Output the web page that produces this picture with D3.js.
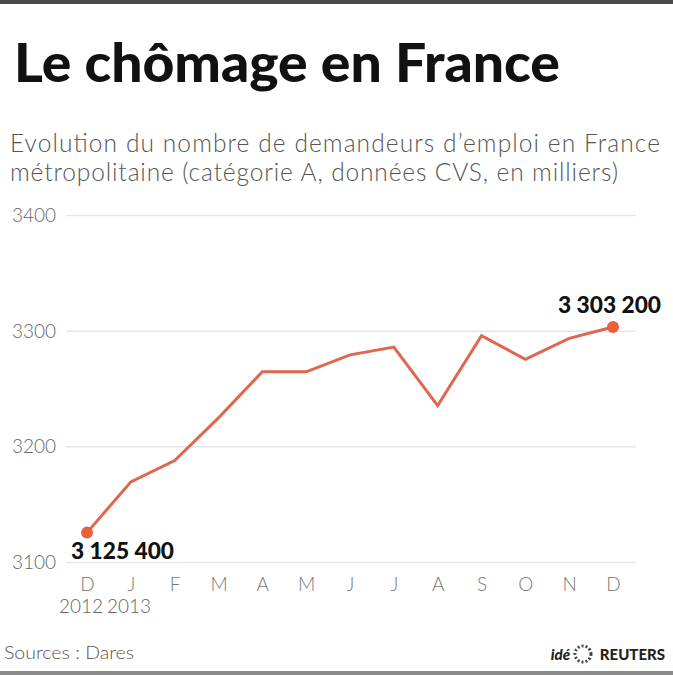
<!DOCTYPE html>
<head>
<meta charset="utf-8">
<script src="https://cdn.jsdelivr.net/npm/d3@7"></script>
<style>
  body { margin: 0; background: #fff; }
  text { font-family: Lato, "Open Sans", sans-serif; }
</style>
</head>
<body>
<svg id="chart" width="673" height="675"></svg>
<script>
// months: Dec 2012 .. Dec 2013
var months = ['D', 'J', 'F', 'M', 'A', 'M', 'J', 'J', 'A', 'S', 'O', 'N', 'D']
var years = ['2012', '2013']
var values = [3125.4, 3169.3, 3187.7, 3224.6, 3264.5, 3264.4, 3279.1, 3285.8, 3235.2, 3295.7, 3275.2, 3293.4, 3303.2]
var yTicks = [3100, 3200, 3300, 3400]
var firstLabel = '3 125 400'
var lastLabel = '3 303 200'

var svg = d3.select('#chart')

// frame lines
svg.append('rect').attr('x', 0).attr('y', 0).attr('width', 673).attr('height', 4).attr('fill', '#4a4a4a')
svg.append('rect').attr('x', 0).attr('y', 671).attr('width', 673).attr('height', 4).attr('fill', '#8a8a8a')

svg.append('text').attr('x', 14).attr('y', 82)
  .attr('font-size', 53).attr('font-weight', 900).attr('fill', '#111')
  .attr('textLength', 546).attr('lengthAdjust', 'spacingAndGlyphs')
  .text('Le chômage en France')

var sub = svg.append('text').attr('font-size', 24.5).attr('font-weight', 300).attr('fill', '#555')
  .attr('lengthAdjust', 'spacingAndGlyphs')
sub.append('tspan').attr('x', 10).attr('y', 152).attr('textLength', 650)
  .text('Evolution du nombre de demandeurs d\u2019emploi en France')
sub.append('tspan').attr('x', 10).attr('y', 181).attr('textLength', 608)
  .text('métropolitaine (catégorie A, données CVS, en milliers)')

var x = d3.scalePoint().domain(d3.range(months.length)).range([87, 613])
var y = d3.scaleLinear().domain([3100, 3400]).range([562, 215])

// gridlines + y labels
var yAxis = d3.axisLeft(y).tickValues(yTicks).tickSize(-(636 - 66)).tickFormat(d3.format('d'))
var gy = svg.append('g').attr('transform', 'translate(66,0)').call(yAxis)
gy.select('.domain').remove()
gy.selectAll('line').attr('stroke', '#e6e6e6').attr('stroke-width', 1.5)
gy.selectAll('text').attr('x', -10).attr('dy', '0.35em').attr('font-size', 19).attr('font-weight', 300)
  .attr('fill', '#666').attr('font-family', 'Lato, sans-serif')

// x labels
var xAxis = d3.axisBottom(x).tickSize(0).tickFormat(function (i) { return months[i] })
var gx = svg.append('g').attr('transform', 'translate(0,574)').call(xAxis)
gx.select('.domain').remove()
gx.selectAll('text').attr('dy', '0.71em').attr('font-size', 19).attr('font-weight', 300)
  .attr('fill', '#777').attr('font-family', 'Lato, sans-serif')

svg.selectAll('.year').data(years).enter().append('text')
  .attr('x', function (d, i) { return i === 0 ? 103 : 107 })
  .attr('y', 613).attr('text-anchor', function (d, i) { return i === 0 ? 'end' : 'start' })
  .attr('font-size', 19).attr('font-weight', 300).attr('fill', '#666')
  .attr('textLength', 44).attr('lengthAdjust', 'spacingAndGlyphs')
  .text(function (d) { return d })

var line = d3.line().x(function (d, i) { return x(i) }).y(function (d) { return y(d) })
svg.append('path').datum(values).attr('d', line)
  .attr('fill', 'none').attr('stroke', '#e0664e').attr('stroke-width', 3).attr('stroke-linejoin', 'miter')

var ends = [0, values.length - 1]
svg.selectAll('.dot').data(ends).enter().append('circle')
  .attr('cx', function (i) { return x(i) }).attr('cy', function (i) { return y(values[i]) })
  .attr('r', 6).attr('fill', '#ea5f3c')

svg.append('text').attr('x', 71).attr('y', 559)
  .attr('font-size', 22).attr('font-weight', 900).attr('fill', '#111')
  .attr('textLength', 103).attr('lengthAdjust', 'spacingAndGlyphs').text(firstLabel)
svg.append('text').attr('x', 558).attr('y', 313)
  .attr('font-size', 22).attr('font-weight', 900).attr('fill', '#111')
  .attr('textLength', 103).attr('lengthAdjust', 'spacingAndGlyphs').text(lastLabel)

// footer
svg.append('text').attr('x', 4).attr('y', 659).attr('font-size', 18).attr('font-weight', 300).attr('fill', '#555')
  .attr('textLength', 130).attr('lengthAdjust', 'spacingAndGlyphs')
  .text('Sources : Dares')
var logo = svg.append('g').attr('transform', 'translate(665,660)')
logo.append('text').attr('text-anchor', 'end').attr('font-size', 15).attr('font-weight', 900).attr('fill', '#222')
  .text('REUTERS')
logo.append('circle').attr('cx', -82).attr('cy', -6).attr('r', 8).attr('fill', 'none')
  .attr('stroke', '#444').attr('stroke-width', 3).attr('stroke-dasharray', '2,2')
logo.append('text').attr('x', -95).attr('text-anchor', 'end').attr('font-size', 15).attr('font-weight', 900)
  .attr('font-style', 'italic').attr('fill', '#222').text('idé')
</script>
</body>
